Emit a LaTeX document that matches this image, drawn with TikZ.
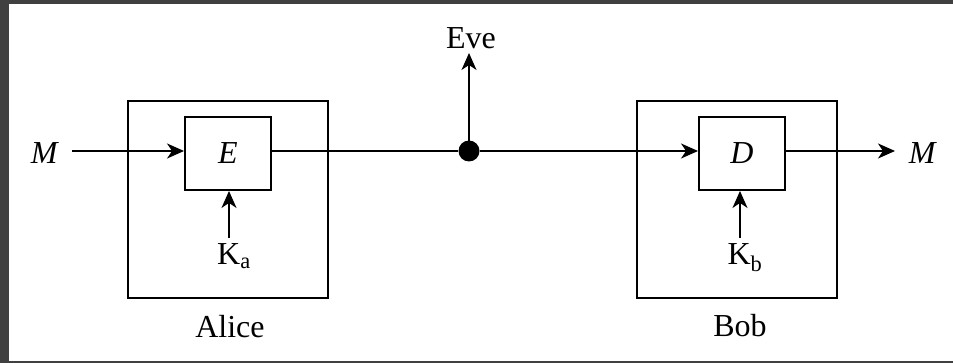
\documentclass[tikz,border=0pt]{standalone}
\usepackage{fontspec}
\setmainfont{Liberation Serif}
\usetikzlibrary{arrows.meta}
\definecolor{framegray}{HTML}{404040}
\begin{document}
\begin{tikzpicture}[x=1pt,y=-1pt,
  line width=1.9pt,
  lbl/.style={inner sep=0pt,font=\fontsize{32}{38}\selectfont},
  arr/.style={-{Stealth[length=17pt,width=15pt,inset=5pt]}},
]
% page frame
\useasboundingbox (0,0) rectangle (953,363);
\fill[framegray] (0,0) rectangle (953,363);
\fill[white] (9,4) rectangle (953,361);

% outer boxes of the two parties
\draw (128,101) rectangle (328,298);
\draw (637,101) rectangle (837,298);
\node[lbl] (alice) at (230,327) {Alice};
\node[lbl] (bob) at (740,326) {Bob};

% encryption and decryption blocks
\node[draw,inner sep=0pt,minimum width=86pt,minimum height=73pt] (E) at (228,153.5) {};
\node[lbl] at (E.center) {\textit{E}};
\node[draw,inner sep=0pt,minimum width=86pt,minimum height=73pt] (D) at (742,153.5) {};
\node[lbl] at (D.center) {\textit{D}};

% inputs and keys
\node[lbl] (Min) at (45,153) {\textit{M}};
\node[lbl] (Mout) at (923,153) {\textit{M}};
\node[lbl,anchor=north] (Ka) at (234,243) {K\textsubscript{a}};
\node[lbl,anchor=north] (Kb) at (745,243) {K\textsubscript{b}};
\coordinate (kaTop) at (229,238);
\coordinate (kbTop) at (740,238);

% eavesdropping tap
\node[circle,fill=black,inner sep=0pt,minimum size=21pt] (tap) at (469,151) {};
\node[lbl] (eve) at (471,38) {Eve};
\coordinate (eveTip) at (469,53);

\coordinate (inStart) at (72,151);
\coordinate (outEnd) at (895,151);

\draw[arr] (inStart) -- (E.west |- inStart);
\draw (E.east |- inStart) -- (tap);
\draw[arr] (tap) -- (D.west |- inStart);
\draw[arr] (D.east |- inStart) -- (outEnd);
\draw[arr] (kaTop) -- (kaTop |- E.south);
\draw[arr] (kbTop) -- (kbTop |- D.south);
\draw[arr] (tap.center) -- (eveTip);
\end{tikzpicture}
\end{document}
